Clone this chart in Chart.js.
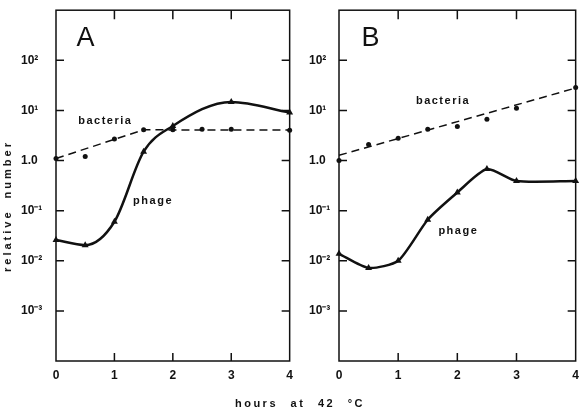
<!DOCTYPE html>
<html>
<head>
<meta charset="utf-8">
<script src="https://cdn.jsdelivr.net/npm/chart.js@4"></script>
<style>
    body { margin: 0; background: #fff; }
    #wrap { position: relative; width: 586px; height: 410px; overflow: hidden; font-family: "Liberation Sans", Arial, sans-serif; color: #111; }
    canvas { position: absolute; top: 0; }
    #chartA { left: 0; }
    #chartB { left: 300px; }
    .ytitle { position: absolute; left: 7px; top: 206px; transform: translate(-50%, -50%) rotate(-90deg); font-weight: bold; font-size: 11px; letter-spacing: 3px; word-spacing: 5px; white-space: nowrap; }
    .xtitle { position: absolute; left: 300px; top: 403px; transform: translate(-50%, -50%); font-weight: bold; font-size: 11px; letter-spacing: 2.5px; word-spacing: 7px; white-space: nowrap; }
</style>
</head>
<body>
<div id="wrap">
    <canvas id="chartA" width="300" height="410"></canvas>
    <canvas id="chartB" width="286" height="410"></canvas>
    <div class="ytitle">relative number</div>
    <div class="xtitle">hours at 42 °C</div>
</div>
<script>
// y axis ticks
const yTickValues = [100, 10, 1, 0.1, 0.01, 0.001];
const yTickLabels = ['10²', '10¹', '1.0', '10⁻¹', '10⁻²', '10⁻³'];
const xTickValues = [0, 1, 2, 3, 4];

// panel A
const aBactHours = [0, 0.5, 1, 1.5, 2, 2.5, 3, 4];
const aBactValues = [1.1, 1.2, 2.7, 4.1, 4.1, 4.2, 4.2, 4.0];
const aBactFitHours = [0, 1.5, 4];
const aBactFitValues = [1.1, 4.1, 4.05];
const aPhageHours = [0, 0.5, 1, 1.5, 2, 3, 4];
const aPhageValues = [0.026, 0.0205, 0.06, 1.5, 4.9, 14.8, 9.1];

// panel B
const bBactHours = [0, 0.5, 1, 1.5, 2, 2.5, 3, 4];
const bBactValues = [1.0, 2.1, 2.8, 4.2, 4.8, 6.7, 11, 28.6];
const bBactFitHours = [0, 4];
const bBactFitValues = [1.27, 28];
const bPhageHours = [0, 0.5, 1, 1.5, 2, 2.5, 3, 4];
const bPhageValues = [0.0138, 0.0072, 0.01, 0.066, 0.23, 0.675, 0.39, 0.39];

const INK = '#111';
const FONT = '"Liberation Sans", Arial, sans-serif';

function pts(xs, ys) {
    return xs.map((x, i) => ({ x: x, y: ys[i] }));
}

// frame with inward ticks, plus text labels inside the plot
const framePlugin = {
    id: 'frame',
    beforeDatasetsDraw(chart) {
        const { ctx, chartArea: a, scales: { x, y } } = chart;
        ctx.save();
        ctx.strokeStyle = INK;
        ctx.lineWidth = 1.5;
        ctx.strokeRect(a.left, a.top, a.width, a.height);
        ctx.beginPath();
        [1, 2, 3].forEach(v => {
            const px = x.getPixelForValue(v);
            ctx.moveTo(px, a.top); ctx.lineTo(px, a.top + 9);
            ctx.moveTo(px, a.bottom); ctx.lineTo(px, a.bottom - 8);
        });
        yTickValues.forEach(v => {
            const py = y.getPixelForValue(v);
            ctx.moveTo(a.left, py); ctx.lineTo(a.left + 8, py);
            ctx.moveTo(a.right, py); ctx.lineTo(a.right - 8, py);
        });
        ctx.stroke();
        ctx.restore();
    },
    afterDraw(chart, args, opts) {
        const { ctx, scales: { x, y } } = chart;
        ctx.save();
        ctx.fillStyle = INK;
        ctx.textAlign = 'left';
        ctx.textBaseline = 'middle';
        (opts.labels || []).forEach(l => {
            ctx.font = l.font;
            ctx.letterSpacing = l.spacing || '0px';
            ctx.fillText(l.text, x.getPixelForValue(l.x), y.getPixelForValue(l.y));
        });
        ctx.restore();
    }
};

function makePanel(id, datasets, labels, pad, yWidth) {
    return new Chart(document.getElementById(id), {
        type: 'scatter',
        data: { datasets: datasets },
        plugins: [framePlugin],
        options: {
            responsive: false,
            animation: false,
            layout: { padding: pad },
            plugins: {
                legend: { display: false },
                tooltip: { enabled: false },
                frame: { labels: labels }
            },
            scales: {
                x: {
                    type: 'linear',
                    min: 0,
                    max: 4,
                    afterBuildTicks: scale => { scale.ticks = xTickValues.map(v => ({ value: v })); },
                    afterFit: scale => { scale.height = 49; },
                    grid: { display: false, drawTicks: false },
                    border: { display: false },
                    ticks: { color: INK, padding: 7, font: { family: FONT, size: 12, weight: 'bold' } }
                },
                y: {
                    type: 'logarithmic',
                    min: 0.0001,
                    max: 1000,
                    afterBuildTicks: scale => { scale.ticks = yTickValues.map(v => ({ value: v })); },
                    afterFit: scale => { scale.width = yWidth; },
                    grid: { display: false, drawTicks: false },
                    border: { display: false },
                    ticks: {
                        color: INK,
                        crossAlign: 'far',
                        font: { family: FONT, size: 12, weight: 'bold' },
                        callback: value => yTickLabels[yTickValues.indexOf(value)]
                    }
                }
            }
        }
    });
}

function panelData(bactH, bactV, fitH, fitV, phageH, phageV, curve) {
    return [
        Object.assign({
            data: pts(phageH, phageV),
            showLine: true,
            borderColor: INK,
            borderWidth: 2.5,
            pointStyle: 'triangle',
            pointRadius: 4,
            pointBackgroundColor: INK,
            pointBorderColor: INK,
            pointBorderWidth: 0,
            clip: false
        }, curve),
        {
            data: pts(fitH, fitV),
            showLine: true,
            borderColor: INK,
            borderWidth: 1.5,
            borderDash: [8, 5],
            pointRadius: 0,
            clip: false
        },
        {
            data: pts(bactH, bactV),
            showLine: false,
            pointRadius: 2.5,
            pointBackgroundColor: INK,
            pointBorderColor: INK,
            pointBorderWidth: 0,
            clip: false
        }
    ];
}

const bigFont = '27px ' + FONT;
const smallFont = 'bold 11px ' + FONT;

makePanel('chartA',
    panelData(aBactHours, aBactValues, aBactFitHours, aBactFitValues, aPhageHours, aPhageValues,
        { cubicInterpolationMode: 'monotone' }),
    [
        { text: 'A', x: 0.35, y: 270, font: bigFont },
        { text: 'bacteria', x: 0.38, y: 6.1, font: smallFont, spacing: '1.5px' },
        { text: 'phage', x: 1.32, y: 0.157, font: smallFont, spacing: '1.5px' }
    ],
    { left: 21, top: 5, right: 4, bottom: 0 }, 35);

makePanel('chartB',
    panelData(bBactHours, bBactValues, bBactFitHours, bBactFitValues, bPhageHours, bPhageValues,
        { tension: 0.22 }),
    [
        { text: 'B', x: 0.38, y: 270, font: bigFont },
        { text: 'bacteria', x: 1.3, y: 15.2, font: smallFont, spacing: '1.5px' },
        { text: 'phage', x: 1.68, y: 0.04, font: smallFont, spacing: '1.5px' }
    ],
    { left: 9, top: 5, right: 8, bottom: 0 }, 30);
</script>
</body>
</html>
